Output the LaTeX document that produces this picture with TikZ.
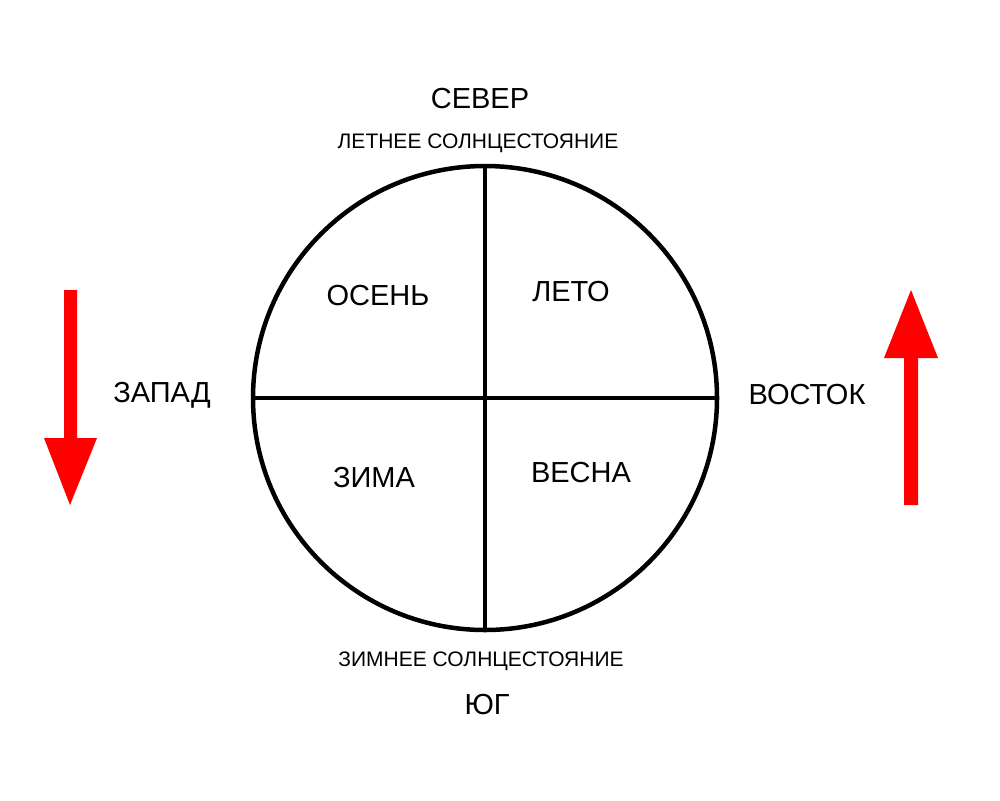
\documentclass[tikz,border=0pt]{standalone}
\usepackage{fontspec}
\setmainfont{Liberation Sans}
\begin{document}
\begin{tikzpicture}[x=1pt,y=-1pt,
  big/.style={font=\fontsize{29}{32}\selectfont,inner sep=0pt},
  small/.style={font=\fontsize{21}{24}\selectfont,inner sep=0pt},
  redarrow/.style={fill=red,draw=none}]
\useasboundingbox (0,0) rectangle (1000,800);
\draw[line width=4.5pt] (485,398) circle (232);
\coordinate (n) at (485,166); \coordinate (s) at (485,630);
\coordinate (w) at (253,398); \coordinate (e) at (717,398);
\draw[line width=4.5pt] (n) -- (s);
\draw[line width=4.5pt] (w) -- (e);
\node[big] (sever) at (480,99) {СЕВЕР};
\node[small] (ls) at (478,143) {ЛЕТНЕЕ СОЛНЦЕСТОЯНИЕ};
\node[small] (zs) at (481,661) {ЗИМНЕЕ СОЛНЦЕСТОЯНИЕ};
\node[big] (yug) at (487,705) {ЮГ};
\node[big] (zapad) at (162,395) {ЗАПАД};
\node[big] (vostok) at (807,395) {ВОСТОК};
\node[big] (osen) at (378,296) {ОСЕНЬ};
\node[big] (leto) at (571,292) {ЛЕТО};
\node[big] (zima) at (374,478) {ЗИМА};
\node[big] (vesna) at (581,473) {ВЕСНА};
\fill[redarrow] (64,290) -- (77,290) -- (77,438) -- (97,438) -- (70,505) -- (44,438) -- (64,438) -- cycle;
\fill[redarrow] (904,505) -- (918,505) -- (918,358) -- (938,358) -- (911,290) -- (884,358) -- (904,358) -- cycle;
\end{tikzpicture}
\end{document}
